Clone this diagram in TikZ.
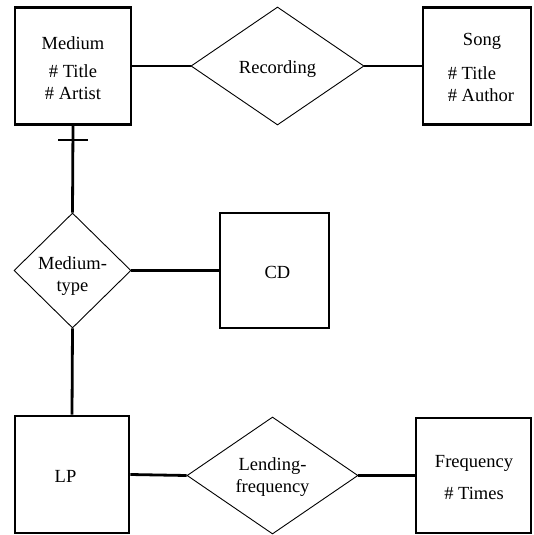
\documentclass[tikz,border=0pt]{standalone}
\usepackage{fontspec}
\setmainfont{Liberation Serif}
\usetikzlibrary{shapes.geometric}
\begin{document}
\begin{tikzpicture}[x=1pt,y=-1pt,
  every node/.style={font=\fontsize{18.5}{22}\selectfont},
  entity/.style={draw, line width=2.6pt, inner sep=0pt},
  relation/.style={draw, diamond, line width=0.9pt, inner sep=0pt},
  txt/.style={inner sep=0pt, align=center},
  conn/.style={line width=2.8pt},
  thinconn/.style={line width=2.2pt}]
\useasboundingbox (0,0) rectangle (533,535);
% shapes
\node[entity, minimum width=116pt, minimum height=117pt] (medium) at (73,66) {};
\node[entity, minimum width=108pt, minimum height=117pt] (song) at (477,66) {};
\node[relation, minimum width=173pt, minimum height=118pt] (rec) at (277.5,66) {};
\node[relation, minimum width=117pt, minimum height=115pt] (mtype) at (72.5,270.5) {};
\node[entity, minimum width=109pt, minimum height=115pt] (cd) at (274.5,270.5) {};
\node[entity, minimum width=114pt, minimum height=117pt] (lp) at (72,474.5) {};
\node[relation, minimum width=171pt, minimum height=117pt] (lend) at (272.5,475.5) {};
\node[entity, minimum width=115pt, minimum height=115pt] (freq) at (473.5,475.5) {};
% texts
\node[txt] (medium-t) at (73,68) {Medium\\[6pt]\# Title\\\# Artist};
\node[txt] (song-t) at (482,41.5) {Song};
\node[txt, align=left] (song-a) at (481,84) {\# Title\\\# Author};
\node[txt] (rec-t) at (277.5,69) {Recording};
\node[txt] (mtype-t) at (72.5,276.5) {Medium-\\type};
\node[txt] (cd-t) at (277.5,272.5) {CD};
\node[txt] (lp-t) at (65.5,476) {LP};
\node[txt] (lend-t) at (272.5,477.5) {Lending-\\frequency};
\node[txt] (freq-t) at (474,478) {Frequency\\[10pt]\# Times};
% connectors
\draw[conn] (medium.east) -- (rec.west);
\draw[conn] (rec.east) -- (song.west);
\draw[conn] (medium.south) -- (mtype.north);
\coordinate (tickl) at ([xshift=-15pt,yshift=-14pt]medium.south);
\coordinate (tickr) at ([xshift=15pt,yshift=-14pt]medium.south);
\draw[thinconn] (tickl) -- (tickr);
\draw[thinconn] (mtype.east) -- (cd.west);
\draw[conn] (mtype.south) -- (lp.north);
\draw[conn] (lp.east) -- (lend.west);
\draw[conn] (lend.east) -- (freq.west);
\end{tikzpicture}
\end{document}
